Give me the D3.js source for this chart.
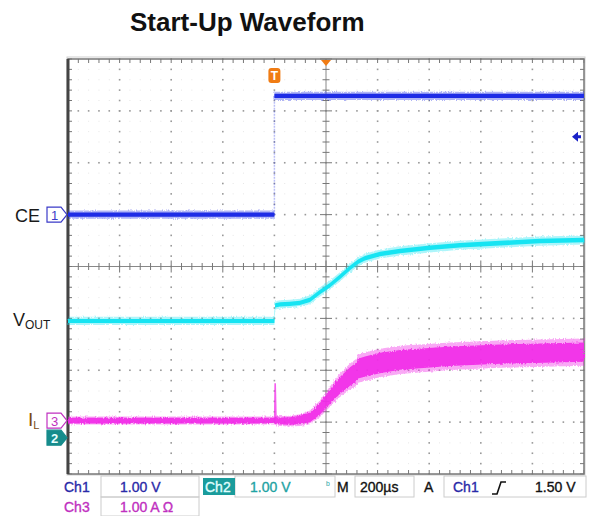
<!DOCTYPE html>
<html><head><meta charset="utf-8">
<script src="https://cdn.jsdelivr.net/npm/d3@7"></script>
<style>body{margin:0;background:#fff} svg{display:block}</style>
</head><body>
<svg id="c" width="589" height="516"></svg>
<script>
// ---------------- data ----------------
const titleText = "Start-Up Waveform";
// time in µs relative to trigger, 200 µs/div, 10 divisions
const timeDomain = [-800, 1200];
// CE (Ch1, 1.00 V/div)
const ceTime   = [-800, 0, 0, 1200];
const ceVolts  = [0, 0, 2.29, 2.29];
const ceSpread = [0.10, 0.10, 0.10, 0.10];
// VOUT (Ch2, 1.00 V/div)
const voutTime   = [-800, 0, 3, 22, 60, 99, 138, 177, 215, 254, 293, 324, 351, 409, 487, 603, 719, 874, 1029, 1200];
const voutVolts  = [2.25, 2.25, 2.55, 2.57, 2.58, 2.60, 2.66, 2.81, 2.94, 3.10, 3.27, 3.39, 3.46, 3.54, 3.60, 3.66, 3.71, 3.75, 3.79, 3.81];
const voutSpread = [0.10, 0.10, 0.10, 0.10, 0.10, 0.10, 0.11, 0.11, 0.11, 0.11, 0.11, 0.11, 0.11, 0.11, 0.11, 0.11, 0.11, 0.11, 0.11, 0.11];
// IL (Ch3, 1.00 A/div)
const ilTime   = [-800, 0, 8, 22, 60, 99, 138, 177, 215, 254, 293, 318, 324, 351, 409, 487, 681, 874, 1200];
const ilAmps   = [0, 0, 0.0, -0.01, -0.01, 0.01, 0.06, 0.23, 0.46, 0.68, 0.85, 0.93, 1.00, 1.04, 1.11, 1.17, 1.24, 1.28, 1.32];
const ilSpread = [0.13, 0.13, 0.15, 0.16, 0.17, 0.19, 0.22, 0.27, 0.33, 0.38, 0.42, 0.44, 0.45, 0.46, 0.46, 0.45, 0.44, 0.44, 0.44];
const ilSpikeTime = [1, 3, 6];
const ilSpikeAmps = [0.0, 0.72, 0.05];
// scope settings / readout
const triggerLevel = 1.50;
const readoutRow1 = ["Ch1", "1.00 V", "Ch2", "1.00 V", "M", "200µs", "A", "Ch1", "1.50 V"];
const readoutRow2 = ["Ch3", "1.00 A Ω"];
const traceLabels = ["CE", "V", "OUT", "I", "L"];
const markerLabels = ["1", "2", "3"];

// ---------------- layout ----------------
const X0 = 68, X1 = 584, Y0 = 59, Y1 = 474;
const svg = d3.select("#c");
const FONT = "'Liberation Sans', Arial, Helvetica, sans-serif";
const xDiv = d3.scaleLinear().domain([0, 10]).range([X0, X1]);
const yDiv = d3.scaleLinear().domain([-4, 4]).range([Y1, Y0]);
const xTime = d3.scaleLinear().domain(timeDomain).range([X0, X1]);
const chans = {
  ch1: {perDiv: 1, offset: 1.0,  color: "#1e2ce6"},
  ch2: {perDiv: 1, offset: -3.3, color: "#16e4f2"},
  ch3: {perDiv: 1, offset: -2.97, color: "#f22ae8"}
};
const yOf = ch => v => yDiv(v / ch.perDiv + ch.offset);

// noise texture filter for the traces (visual style only)
const defs = svg.append("defs");
const f = defs.append("filter").attr("id", "noise").attr("x", "-5%").attr("y", "-50%").attr("width", "110%").attr("height", "200%");
f.append("feTurbulence").attr("type", "fractalNoise").attr("baseFrequency", "0.9 0.35").attr("numOctaves", 2).attr("seed", 3).attr("result", "t");
f.append("feDisplacementMap").attr("in", "SourceGraphic").attr("in2", "t").attr("scale", 3.5).attr("xChannelSelector", "R").attr("yChannelSelector", "G");

// title
svg.append("text").attr("x", 130).attr("y", 31).attr("font-family", FONT)
  .attr("font-size", 26).attr("font-weight", "bold").attr("fill", "#111").text(titleText);

// ---------------- graticule ----------------
const g = svg.append("g");
g.append("rect").attr("x", X0).attr("y", Y0).attr("width", X1 - X0).attr("height", Y1 - Y0).attr("fill", "#fff");
const sub = d3.range(0, 50.01, 1).map(i => i / 5);
const subY = d3.range(-20, 20.01, 1).map(i => i / 5);
sub.forEach(dx => subY.forEach(dy => {
  g.append("rect").attr("x", xDiv(dx) - 0.5).attr("y", yDiv(dy) - 0.5).attr("width", 1).attr("height", 1).attr("fill", "#e6e6e6");
}));
d3.range(1, 10).filter(d => d !== 5).forEach(d => {
  subY.forEach(dy => g.append("rect").attr("x", xDiv(d) - 0.8).attr("y", yDiv(dy) - 0.8).attr("width", 1.6).attr("height", 1.6).attr("fill", "#9a9a9a"));
});
d3.range(-3, 4).filter(d => d !== 0).forEach(d => {
  sub.forEach(dx => g.append("rect").attr("x", xDiv(dx) - 0.8).attr("y", yDiv(d) - 0.8).attr("width", 1.6).attr("height", 1.6).attr("fill", "#9a9a9a"));
});
const cx = xDiv(5), cy = yDiv(0);
g.append("line").attr("x1", X0).attr("x2", X1).attr("y1", cy).attr("y2", cy).attr("stroke", "#888").attr("stroke-width", 1);
g.append("line").attr("x1", cx).attr("x2", cx).attr("y1", Y0).attr("y2", Y1).attr("stroke", "#888").attr("stroke-width", 1);
sub.forEach(dx => {
  const L = (Math.abs(dx - Math.round(dx)) < 1e-6) ? 6 : 3.5;
  g.append("line").attr("x1", xDiv(dx)).attr("x2", xDiv(dx)).attr("y1", cy - L).attr("y2", cy + L).attr("stroke", "#777").attr("stroke-width", 1);
  g.append("line").attr("x1", xDiv(dx)).attr("x2", xDiv(dx)).attr("y1", Y0).attr("y2", Y0 + 4).attr("stroke", "#777").attr("stroke-width", 1);
  g.append("line").attr("x1", xDiv(dx)).attr("x2", xDiv(dx)).attr("y1", Y1 - 4).attr("y2", Y1).attr("stroke", "#777").attr("stroke-width", 1);
});
subY.forEach(dy => {
  const L = (Math.abs(dy - Math.round(dy)) < 1e-6) ? 6 : 3.5;
  g.append("line").attr("y1", yDiv(dy)).attr("y2", yDiv(dy)).attr("x1", cx - L).attr("x2", cx + L).attr("stroke", "#777").attr("stroke-width", 1);
  g.append("line").attr("y1", yDiv(dy)).attr("y2", yDiv(dy)).attr("x1", X0).attr("x2", X0 + 4).attr("stroke", "#777").attr("stroke-width", 1);
  g.append("line").attr("y1", yDiv(dy)).attr("y2", yDiv(dy)).attr("x1", X1 - 4).attr("x2", X1).attr("stroke", "#777").attr("stroke-width", 1);
});
g.append("rect").attr("x", X0 - 1).attr("y", Y0 - 2).attr("width", X1 - X0 + 2).attr("height", Y1 - Y0 + 3)
  .attr("fill", "none").attr("stroke", "#cfcfcf").attr("stroke-width", 1);
g.append("rect").attr("x", X0).attr("y", Y0).attr("width", X1 - X0).attr("height", Y1 - Y0)
  .attr("fill", "none").attr("stroke", "#777").attr("stroke-width", 1.5);
g.append("line").attr("x1", X0).attr("x2", X0).attr("y1", Y0).attr("y2", Y1).attr("stroke", "#444").attr("stroke-width", 3);

// ---------------- traces ----------------
const traces = svg.append("g");
function zip(ts, vs, ss) { return ts.map((t, i) => ({t, v: vs[i], s: ss ? ss[i] : 0})); }
function band(data, ch, k, opacity, noisy) {
  const y = yOf(ch);
  const area = d3.area().x(d => xTime(d.t)).y0(d => y(d.v - d.s * k / 2)).y1(d => y(d.v + d.s * k / 2));
  const p = traces.append("path").attr("d", area(data)).attr("fill", ch.color).attr("opacity", opacity);
  if (noisy) p.attr("filter", "url(#noise)");
}
function stepTrace(ts, vs, ss, ch) {
  const data = zip(ts, vs, ss);
  const y = yOf(ch);
  let run = [data[0]];
  const runs = [];
  for (let i = 1; i < data.length; i++) {
    if (data[i].t === data[i - 1].t) {
      runs.push(run);
      traces.append("line").attr("x1", xTime(data[i].t)).attr("x2", xTime(data[i].t))
        .attr("y1", y(data[i - 1].v)).attr("y2", y(data[i].v))
        .attr("stroke", ch.color).attr("stroke-width", 1.5).attr("opacity", 0.3).attr("stroke-dasharray", "2,1");
      run = [data[i]];
    } else run.push(data[i]);
  }
  runs.push(run);
  runs.forEach(r => { band(r, ch, 1.6, 0.35, true); band(r, ch, 0.8, 1, false); });
}
stepTrace(ceTime, ceVolts, ceSpread, chans.ch1);
const vdata = zip(voutTime, voutVolts, voutSpread);
band(vdata, chans.ch2, 1.6, 0.35, true); band(vdata, chans.ch2, 0.8, 1, false);
const idata = zip(ilTime, ilAmps, ilSpread);
band(idata, chans.ch3, 1.2, 0.4, true); band(idata, chans.ch3, 0.85, 0.9, true);
traces.append("path").attr("d", d3.line().x(d => xTime(d.t)).y(d => yOf(chans.ch3)(d.v))(zip(ilSpikeTime, ilSpikeAmps)))
  .attr("fill", "none").attr("stroke", chans.ch3.color).attr("stroke-width", 1.6).attr("opacity", 0.75);

// ---------------- markers ----------------
svg.append("path").attr("d", `M${cx - 5},${Y0 + 1} L${cx + 5},${Y0 + 1} L${cx},${Y0 + 7} Z`).attr("fill", "#f07c14");
const tx = xTime(0);
svg.append("rect").attr("x", tx - 6).attr("y", 68).attr("width", 12).attr("height", 15).attr("rx", 3).attr("fill", "#f07c14");
svg.append("text").attr("x", tx).attr("y", 80).attr("text-anchor", "middle").attr("font-family", FONT)
  .attr("font-size", 12).attr("font-weight", "bold").attr("fill", "#fff").text("T");
const ty = yOf(chans.ch1)(triggerLevel);
svg.append("path").attr("d", `M${X1 - 12},${ty} L${X1 - 6},${ty - 5} L${X1 - 6},${ty - 1.5} L${X1 - 3},${ty - 1.5} L${X1 - 3},${ty + 1.5} L${X1 - 6},${ty + 1.5} L${X1 - 6},${ty + 5} Z`)
  .attr("fill", "#1a22c8");

function gndMarker(ch, label, filled) {
  const c = yOf(ch)(0);
  svg.append("path").attr("d", `M47,${c - 7.5} H61 L67,${c} L61,${c + 7.5} H47 Z`)
    .attr("fill", filled ? ch.mcolor : "#fff").attr("stroke", ch.mcolor).attr("stroke-width", 1.2);
  svg.append("text").attr("x", 54.5).attr("y", c + 5).attr("text-anchor", "middle").attr("font-family", FONT)
    .attr("font-size", 13).attr("font-weight", filled ? "bold" : "normal").attr("fill", filled ? "#e8ffff" : ch.mcolor).text(label);
}
chans.ch1.mcolor = "#3a3ac8"; chans.ch2.mcolor = "#168c8c"; chans.ch3.mcolor = "#c030c0";
gndMarker(chans.ch1, markerLabels[0], false);
gndMarker(chans.ch3, markerLabels[2], false);
gndMarker(chans.ch2, markerLabels[1], true);

const ceY = yOf(chans.ch1)(0);
svg.append("text").attr("x", 15).attr("y", ceY + 7).attr("font-family", FONT).attr("font-size", 18).attr("fill", "#1a1a1a").text(traceLabels[0]);
const voY = yOf(chans.ch2)(voutVolts[0]);
const vt = svg.append("text").attr("x", 13).attr("y", voY + 5).attr("font-family", FONT).attr("fill", "#1a1a1a");
vt.append("tspan").attr("font-size", 18).text(traceLabels[1]);
vt.append("tspan").attr("font-size", 12).attr("dy", 3).text(traceLabels[2]);
const ilY = yOf(chans.ch3)(0);
const it = svg.append("text").attr("x", 28).attr("y", ilY + 5).attr("font-family", FONT).attr("fill", "#7a4a14");
it.append("tspan").attr("font-size", 19).text(traceLabels[3]);
it.append("tspan").attr("font-size", 11).attr("dy", 3).text(traceLabels[4]);

// ---------------- readout ----------------
const r = svg.append("g").attr("font-family", FONT).attr("font-size", 14);
const boxes = [[101, 476, 98, 21], [101, 497, 98, 19], [235, 476, 100, 21], [355, 476, 59, 21], [444, 476, 142, 21]];
boxes.forEach(b => r.append("rect").attr("x", b[0]).attr("y", b[1]).attr("width", b[2]).attr("height", b[3])
  .attr("fill", "none").attr("stroke", "#cccccc").attr("stroke-width", 1));
r.append("rect").attr("x", 203).attr("y", 478).attr("width", 32).attr("height", 17).attr("fill", "#1a9c9c");
const row1 = [
  {x: 64, t: readoutRow1[0], c: "#2a2aa8"},
  {x: 120, t: readoutRow1[1], c: "#2a2aa8"},
  {x: 205, t: readoutRow1[2], c: "#e0ffff"},
  {x: 250, t: readoutRow1[3], c: "#1fa3a3"},
  {x: 337, t: readoutRow1[4], c: "#111"},
  {x: 360, t: readoutRow1[5], c: "#111"},
  {x: 424, t: readoutRow1[6], c: "#111"},
  {x: 453, t: readoutRow1[7], c: "#2a2aa8"},
  {x: 535, t: readoutRow1[8], c: "#111"}
];
row1.forEach(d => r.append("text").attr("x", d.x).attr("y", 492).attr("fill", d.c)
  .attr("stroke", d.c).attr("stroke-width", 0.35).text(d.t));
r.append("text").attr("x", 326).attr("y", 488).attr("font-size", 10).attr("fill", "#1fa3a3").text("ᵇ");
r.append("path").attr("d", "M492,494 L497,494 L501,482 L506,482").attr("fill", "none").attr("stroke", "#111").attr("stroke-width", 1.6);
[[64, readoutRow2[0]], [120, readoutRow2[1]]].forEach(d => r.append("text").attr("x", d[0]).attr("y", 512)
  .attr("fill", "#c030c0").attr("stroke", "#c030c0").attr("stroke-width", 0.35).text(d[1]));
</script>
</body></html>
